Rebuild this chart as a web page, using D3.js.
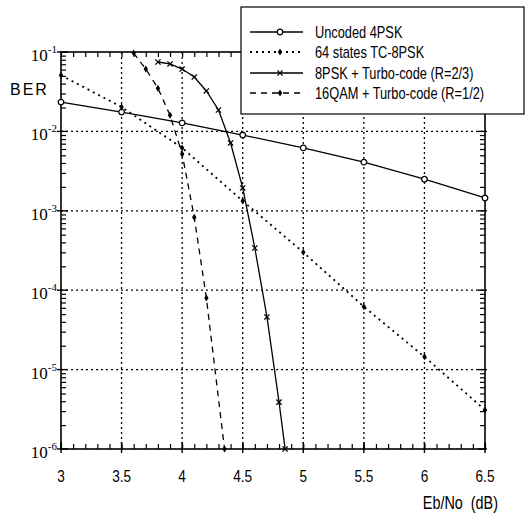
<!DOCTYPE html>
<html>
<head>
<meta charset="utf-8">
<script src="https://cdn.jsdelivr.net/npm/d3@7/dist/d3.min.js"></script>
<style>
  body { margin: 0; background: #fff; }
  svg { display: block; }
</style>
</head>
<body>
<svg width="525" height="517"></svg>
<script>
// Eb/No (dB) values and BER for each curve
var xUncoded = [3, 3.5, 4, 4.5, 5, 5.5, 6, 6.5];
var berUncoded = [0.0234, 0.0175, 0.0128, 0.009, 0.0062, 0.0041, 0.0025, 0.00145];

var xTC8 = [3, 3.5, 4, 4.5, 5, 5.5, 6, 6.5];
var berTC8 = [0.051, 0.0203, 0.0062, 0.00133, 0.0003, 6.2e-5, 1.45e-5, 3.1e-6];

var xTurbo8 = [3.8, 3.9, 4.0, 4.1, 4.2, 4.3, 4.4, 4.5, 4.6, 4.7, 4.8, 4.85];
var berTurbo8 = [0.0748, 0.0707, 0.061, 0.0484, 0.0323, 0.0186, 0.00715, 0.00194, 0.00034, 4.6e-5, 3.9e-6, 1e-6];

var xQam16 = [3.6, 3.7, 3.8, 3.9, 4.0, 4.1, 4.2, 4.35];
var berQam16 = [0.097, 0.061, 0.035, 0.016, 0.0052, 0.00083, 8e-5, 1e-6];

var seriesNames = ["Uncoded 4PSK", "64 states TC-8PSK", "8PSK + Turbo-code (R=2/3)", "16QAM + Turbo-code (R=1/2)"];
var xTicks = [3, 3.5, 4, 4.5, 5, 5.5, 6, 6.5];
var xTickLabels = ["3", "3.5", "4", "4.5", "5", "5.5", "6", "6.5"];
var yExponents = [-1, -2, -3, -4, -5, -6];

var svg = d3.select("svg");
var pl = 61, pr = 485, pt = 52, pb = 449;

var x = d3.scaleLinear().domain([3, 6.5]).range([pl, pr]);
var y = d3.scaleLog().domain([1e-6, 1e-1]).range([pb, pt]);

// minor tick positions
var xMinor = d3.range(30, 66).map(function (d) { return d / 10; });
var yMinor = [];
yExponents.slice(0, 5).forEach(function (e) {
  for (var m = 2; m <= 9; m++) yMinor.push(m * Math.pow(10, e - 1));
});

// condensed sans text (Helvetica Narrow look) by squeezing Liberation Sans
function narrowText(parent, tx, ty, size, str, anchor) {
  var gg = parent.append("g").attr("transform", "translate(" + tx + "," + ty + ") scale(0.8,1)");
  return gg.append("text").attr("x", 0).attr("y", 0)
    .attr("font-family", "'Liberation Sans', Arial, sans-serif")
    .attr("font-size", size).attr("text-anchor", anchor || "start").text(str);
}

var g = svg.append("g");

// dotted grid
g.selectAll(".vgrid").data(xTicks.slice(1, -1)).enter().append("line")
  .attr("x1", function (d) { return x(d); }).attr("x2", function (d) { return x(d); })
  .attr("y1", pt).attr("y2", pb)
  .attr("stroke", "#000").attr("stroke-width", 1.3).attr("stroke-dasharray", "2,3");
g.selectAll(".hgrid").data(yExponents.slice(1, -1)).enter().append("line")
  .attr("x1", pl).attr("x2", pr)
  .attr("y1", function (d) { return y(Math.pow(10, d)); }).attr("y2", function (d) { return y(Math.pow(10, d)); })
  .attr("stroke", "#000").attr("stroke-width", 1.3).attr("stroke-dasharray", "2,3");

// minor ticks (inside the frame)
var t = 5;
g.append("g").attr("transform", "translate(0," + pb + ")")
  .call(d3.axisTop(x).tickValues(xMinor).tickSize(t).tickFormat(""))
  .call(function (s) { s.select(".domain").remove(); });
g.append("g").attr("transform", "translate(0," + pt + ")")
  .call(d3.axisBottom(x).tickValues(xMinor).tickSize(t).tickFormat(""))
  .call(function (s) { s.select(".domain").remove(); });
g.append("g").attr("transform", "translate(" + pl + ",0)")
  .call(d3.axisRight(y).tickValues(yMinor).tickSize(t).tickFormat(""))
  .call(function (s) { s.select(".domain").remove(); });
g.append("g").attr("transform", "translate(" + pr + ",0)")
  .call(d3.axisLeft(y).tickValues(yMinor).tickSize(t).tickFormat(""))
  .call(function (s) { s.select(".domain").remove(); });
g.selectAll(".tick line").attr("stroke", "#000").attr("stroke-width", 1.2);

// major ticks crossing the frame
g.selectAll(".ymaj").data(yExponents).enter().append("line")
  .attr("x1", pl - 4).attr("x2", pl + 7)
  .attr("y1", function (d) { return y(Math.pow(10, d)); }).attr("y2", function (d) { return y(Math.pow(10, d)); })
  .attr("stroke", "#000").attr("stroke-width", 1.4);
g.selectAll(".ymaj2").data(yExponents).enter().append("line")
  .attr("x1", pr - 7).attr("x2", pr + 2)
  .attr("y1", function (d) { return y(Math.pow(10, d)); }).attr("y2", function (d) { return y(Math.pow(10, d)); })
  .attr("stroke", "#000").attr("stroke-width", 1.4);
g.selectAll(".xmaj").data(xTicks).enter().append("line")
  .attr("x1", function (d) { return x(d); }).attr("x2", function (d) { return x(d); })
  .attr("y1", pb - 7).attr("y2", pb + 4)
  .attr("stroke", "#000").attr("stroke-width", 1.4);

// frame
g.append("rect").attr("x", pl).attr("y", pt).attr("width", pr - pl).attr("height", pb - pt)
  .attr("fill", "none").attr("stroke", "#000").attr("stroke-width", 1.6);

// tick labels
xTicks.forEach(function (d, i) {
  narrowText(g, x(d), 482, 17, xTickLabels[i], "middle");
});

var yl = g.selectAll(".ylab").data(yExponents).enter().append("text")
  .attr("x", 57).attr("y", function (d) { return y(Math.pow(10, d)) + 9; })
  .attr("text-anchor", "end")
  .attr("font-family", "'Liberation Serif', 'Times New Roman', serif").attr("font-size", 17);
yl.append("tspan").text("10");
yl.append("tspan").attr("dy", -8).attr("font-size", 11).text(function (d) { return "-" + Math.abs(d); });

svg.append("text").attr("x", 10).attr("y", 95)
  .attr("font-family", "'Liberation Sans', Arial, sans-serif").attr("font-size", 16)
  .attr("letter-spacing", 2).text("BER");
narrowText(svg, 498, 509, 18, "Eb/No (dB)", "end").attr("word-spacing", 5);

// curves
var line = d3.line().x(function (d) { return x(d[0]); }).y(function (d) { return y(d[1]); });
var series = [
  { xs: xUncoded, ys: berUncoded, dash: null, marker: "circle" },
  { xs: xTC8, ys: berTC8, dash: "2,4", marker: "diamond" },
  { xs: xTurbo8, ys: berTurbo8, dash: null, marker: "cross" },
  { xs: xQam16, ys: berQam16, dash: "6,5", marker: "diamond" }
];

function drawMarker(sel, type) {
  if (type === "circle") {
    sel.append("circle").attr("r", 2.8).attr("fill", "#fff").attr("stroke", "#000").attr("stroke-width", 1.3);
  } else if (type === "diamond") {
    sel.append("path").attr("d", "M0,-3.5L2.2,0L0,3.5L-2.2,0Z").attr("fill", "#000");
  } else {
    sel.append("path").attr("d", "M-2.6,-2.6L2.6,2.6M-2.6,2.6L2.6,-2.6").attr("stroke", "#000").attr("stroke-width", 1.3);
  }
}

var plot = svg.append("g");
series.forEach(function (s) {
  var pts = s.xs.map(function (v, i) { return [v, s.ys[i]]; });
  plot.append("path").datum(pts).attr("d", line)
    .attr("fill", "none").attr("stroke", "#000").attr("stroke-width", s.dash === "2,4" ? 1.8 : 1.3)
    .attr("stroke-dasharray", s.dash);
  var m = plot.selectAll(null).data(pts).enter().append("g")
    .attr("transform", function (d) { return "translate(" + x(d[0]) + "," + y(d[1]) + ")"; });
  drawMarker(m, s.marker);
});

// legend
var lg = svg.append("g");
lg.append("rect").attr("x", 241).attr("y", 7).attr("width", 283).attr("height", 107)
  .attr("fill", "#fff").attr("stroke", "#000").attr("stroke-width", 1.2);
var rowY = [32, 52, 73, 93];
series.forEach(function (s, i) {
  lg.append("line").attr("x1", 250).attr("x2", 303).attr("y1", rowY[i]).attr("y2", rowY[i])
    .attr("stroke", "#000").attr("stroke-width", s.dash === "2,4" ? 1.8 : 1.3).attr("stroke-dasharray", s.dash);
  var mk = lg.append("g").attr("transform", "translate(280," + rowY[i] + ")");
  drawMarker(mk, s.marker);
  narrowText(lg, 315, rowY[i] + 6, 16, seriesNames[i]);
});
</script>
</body>
</html>
